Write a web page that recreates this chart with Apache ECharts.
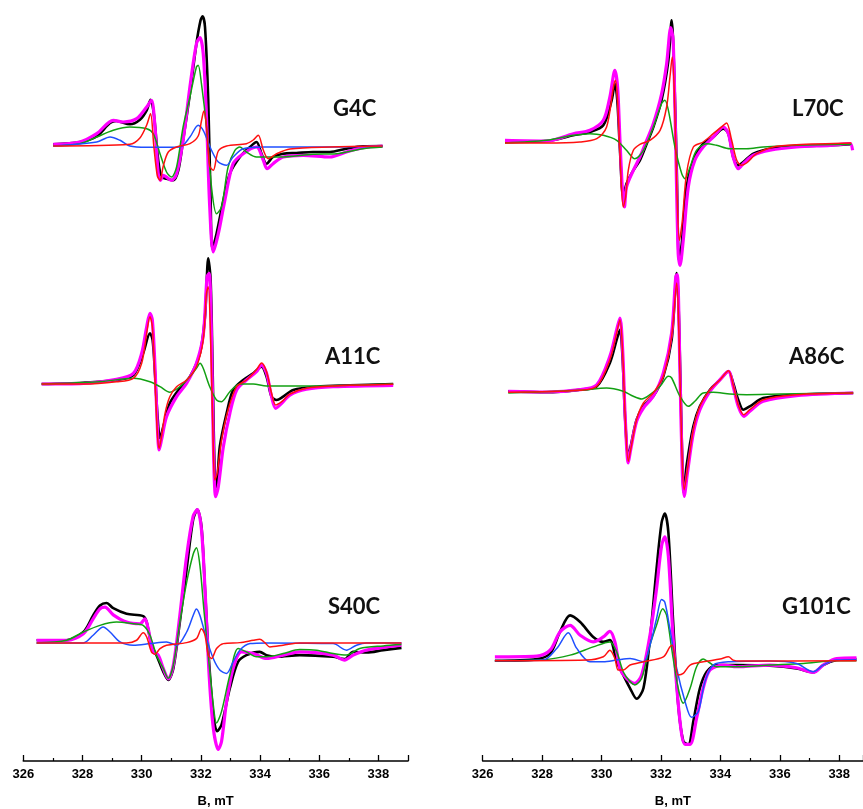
<!DOCTYPE html>
<html>
<head>
<meta charset="utf-8">
<script src="https://cdn.jsdelivr.net/npm/echarts@6/dist/echarts.min.js"></script>
<style>
  html, body { margin: 0; padding: 0; background: #fff; }
  #main { width: 863px; height: 809px; }
</style>
</head>
<body>
<div id="main"></div>
<script>
// EPR spectra, x = B (mT), y = intensity (a.u., baseline 0)

// ---- G4C ----
const g4cBlack = [[327.01,1.7],[327.91,4],[328.48,9.7],[328.93,23],[329.15,25],[329.60,21.7],[329.94,26.3],[330.17,35.7],[330.30,46.3],[330.41,32.3],[330.56,-14.3],[330.67,-31],[330.84,-32.7],[331.07,-34.3],[331.24,-24.3],[331.40,5.7],[331.63,52.3],[331.85,102.3],[331.99,125.7],[332.06,129.7],[332.14,119],[332.25,45.7],[332.33,-54.3],[332.39,-102.7],[332.53,-87.7],[332.76,-54.3],[332.98,-27.7],[333.32,-11],[333.66,-1],[333.88,4],[334.05,-7.7],[334.22,-17.7],[334.44,-11],[334.78,-7.7],[335.23,-7],[335.79,-6],[336.36,-6],[336.92,-2.7],[337.48,-0.3],[338.14,0]];
const g4cMagenta = [[327.01,1.7],[327.91,4],[328.48,12.3],[329.04,25.7],[329.38,24],[329.83,27.3],[330.17,39],[330.33,45.7],[330.45,19],[330.56,-27.7],[330.64,-34.3],[330.73,-29.3],[331.01,-34.3],[331.18,-27.7],[331.40,5.7],[331.63,59],[331.85,102.3],[331.97,108.3],[332.08,92.3],[332.19,29],[332.30,-61],[332.42,-106],[332.59,-87.7],[332.81,-54.3],[333.09,-17.7],[333.43,-7.7],[333.88,-1],[334.11,-14.3],[334.24,-22.7],[334.44,-17.7],[334.78,-11],[335.46,-9.3],[336.36,-11],[336.92,-6],[337.48,-1.7],[338.14,0]];
const g4cRed = [[327.01,0],[329.60,1.7],[329.94,8],[330.17,21],[330.30,32.3],[330.41,0],[330.53,-30],[330.62,-34.3],[330.73,-20],[330.90,-6],[331.18,-1],[331.63,2.3],[331.91,10],[332.02,25],[332.10,35],[332.19,20],[332.30,-20],[332.42,-24.3],[332.59,-5],[332.87,0],[333.54,2.3],[333.77,6],[333.94,10.7],[334.11,-4],[334.28,-12.7],[334.56,-7.7],[335.01,-3],[336.36,-1],[338.14,0]];
const g4cGreen = [[327.01,0],[327.91,2.3],[328.48,9],[329.04,15.7],[329.60,19],[330.17,17.3],[330.39,12.3],[330.62,-7.7],[330.84,-26],[331.01,-31],[331.18,-21],[331.40,19],[331.63,49],[331.85,79],[331.91,80.7],[332.02,62.3],[332.19,19],[332.36,-41],[332.53,-67.7],[332.70,-61],[332.92,-21],[333.15,-4.3],[333.32,-1],[333.54,-6],[333.88,-11],[334.67,-11],[335.79,-8.3],[336.58,-7.7],[337.48,-2.7],[338.14,-1]];
const g4cBlue = [[327.01,0],[328.48,4],[328.93,9],[329.27,5.7],[329.60,0],[330.17,-1.3],[331.29,-1],[331.63,9],[331.91,20.7],[332.08,15.7],[332.36,-4.3],[332.59,-16],[332.87,-19.3],[333.09,-11],[333.43,-2.7],[334.11,-1],[336.36,-1],[338.14,0]];

// ---- A11C ----
const a11cBlack = [[326.62,0],[328.03,1.3],[329.15,4],[329.72,9],[330.05,30.7],[330.28,50.7],[330.37,44],[330.45,10.7],[330.53,-29.3],[330.62,-54.3],[330.73,-42.7],[330.95,-19.3],[331.29,-4.3],[331.63,7.3],[331.97,30.7],[332.14,67.3],[332.25,125.7],[332.33,104.3],[332.40,10.7],[332.47,-89.3],[332.53,-102.7],[332.64,-62.7],[332.87,-29.3],[333.09,-6],[333.43,4],[333.77,10.7],[334.05,17.3],[334.22,7.3],[334.39,-12.7],[334.56,-16],[334.78,-12.7],[335.12,-6],[335.91,-2.7],[337.03,-1.3],[338.50,0]];
const a11cMagenta = [[326.62,0],[328.03,0.7],[329.15,4.7],[329.72,10.7],[330.00,30.7],[330.17,57.3],[330.28,70.7],[330.36,64],[330.45,17.3],[330.53,-42.7],[330.59,-66],[330.67,-56],[330.84,-32.7],[331.18,-12.7],[331.52,0.7],[331.85,20.7],[332.08,48.7],[332.21,107.3],[332.28,110.7],[332.35,60.7],[332.42,-56],[332.50,-112.7],[332.59,-102.7],[332.76,-62.7],[332.98,-29.3],[333.21,-6],[333.54,4],[333.88,12.3],[334.05,19],[334.22,10.7],[334.39,-12.7],[334.53,-24.3],[334.73,-19.3],[335.01,-11],[335.57,-5.3],[336.47,-2.7],[338.50,-1.3]];
const a11cRed = [[326.62,0],[328.03,0],[329.15,2.3],[329.72,5.7],[330.00,20.7],[330.17,50.7],[330.28,67.3],[330.36,57.3],[330.45,4],[330.53,-49.3],[330.59,-64.3],[330.67,-52.7],[330.79,-29.3],[330.95,-12.7],[331.18,-2.7],[331.52,4],[331.85,17.3],[332.08,44],[332.19,90.7],[332.25,97.3],[332.33,44],[332.42,-62.7],[332.47,-96],[332.55,-89.3],[332.70,-56],[332.92,-26],[333.21,-2.7],[333.54,4],[333.88,14.3],[334.05,21],[334.22,12.3],[334.39,-9.3],[334.53,-21],[334.73,-17.7],[335.01,-10],[335.57,-4.3],[336.47,-2],[338.50,-0.3]];
const a11cGreen = [[326.62,0],[328.59,2.3],[329.72,5.7],[330.28,2.3],[330.62,-2.7],[330.95,-8.3],[331.29,-2.7],[331.63,7.3],[331.85,15.7],[331.97,20.7],[332.08,15.7],[332.30,-2.7],[332.53,-16],[332.70,-17.7],[332.98,-7.7],[333.32,0],[333.77,0],[334.22,-2],[335.34,-2],[336.47,-1.7],[338.50,0]];

// ---- S40C ----
const s40cBlack = [[326.45,2.7],[327.46,2.7],[328.03,11],[328.36,27.7],[328.59,37.7],[328.81,40.3],[329.04,35],[329.49,29.3],[330.05,27],[330.17,21],[330.33,-2.3],[330.50,-12.3],[330.73,-29],[330.90,-37.3],[331.07,-25.7],[331.29,21],[331.52,74.3],[331.74,124.3],[331.88,134.3],[332.02,117.7],[332.14,54.3],[332.25,-5.7],[332.42,-72.3],[332.55,-89],[332.70,-82.3],[332.98,-45.7],[333.26,-19],[333.54,-12.3],[333.99,-9],[334.22,-12.3],[334.56,-14],[335.34,-12.3],[336.47,-14],[336.86,-16.3],[337.15,-9],[337.60,-9.7],[338.16,-7.3],[338.78,-5]];
const s40cMagenta = [[326.45,2.7],[327.46,2.7],[328.03,9.3],[328.36,24.3],[328.59,34.3],[328.76,36],[329.04,28.3],[329.49,21],[329.94,19.3],[330.11,24.3],[330.22,14.3],[330.39,-9],[330.56,-12.3],[330.73,-25.7],[330.90,-36.3],[331.07,-22.3],[331.29,27.7],[331.52,87.7],[331.74,127.7],[331.88,134.3],[332.02,114.3],[332.14,54.3],[332.28,-32.3],[332.42,-85.7],[332.59,-107.3],[332.70,-99],[332.87,-59],[333.09,-25.7],[333.37,-9],[333.77,-10.7],[334.22,-15.7],[334.78,-12.3],[335.34,-9],[336.47,-12.3],[336.86,-17.3],[337.15,-12.3],[337.60,-7.3],[338.78,-2.3]];
const s40cRed = [[326.45,0],[329.49,0],[329.83,2.7],[330.05,10.3],[330.17,6],[330.33,-9],[330.45,-11.3],[330.62,-5.7],[330.84,-2.3],[331.52,0.3],[331.85,4.3],[332.02,14.3],[332.14,7.7],[332.25,-12.3],[332.36,-15.7],[332.53,-5.7],[332.76,-0.7],[333.32,0.3],[333.77,2.7],[333.99,3.7],[334.16,0.3],[334.33,-4],[334.78,-2.3],[335.34,0],[338.78,0]];
const s40cGreen = [[326.45,0],[327.46,2.7],[328.03,11],[328.59,17.7],[329.15,21],[329.72,19.3],[330.05,17.7],[330.28,7.7],[330.50,-12.3],[330.73,-25.7],[330.90,-35.7],[331.07,-22.3],[331.29,21],[331.52,61],[331.74,89.3],[331.85,96],[331.97,77.7],[332.10,34.3],[332.25,-12.3],[332.42,-62.3],[332.53,-80.7],[332.70,-69],[332.98,-32.3],[333.26,-5.7],[333.54,-9],[333.88,-14],[334.22,-14],[334.78,-10.7],[335.34,-6.7],[335.91,-7.3],[336.47,-10.7],[336.92,-12.3],[337.37,-5.7],[338.16,-3],[338.78,-1.7]];
const s40cBlue = [[326.45,0],[328.03,0],[328.36,7.7],[328.70,16],[328.93,11],[329.27,1],[329.72,-2.3],[330.28,-0.7],[330.84,1],[331.18,-2.3],[331.52,11],[331.74,27.7],[331.85,34.3],[331.97,27.7],[332.19,4.3],[332.42,-15.7],[332.64,-27.3],[332.87,-30.7],[333.09,-19],[333.32,-7.3],[333.66,-0.7],[334.22,0],[336.47,-0.7],[336.92,-7.3],[337.26,-2.3],[337.60,0],[338.78,0]];

// ---- L70C ----
const l70cBlack = [[326.75,1],[328.15,2],[329.05,7.7],[329.61,11],[330.06,17.7],[330.34,42.7],[330.45,59.3],[330.53,42.7],[330.62,-7.3],[330.73,-54],[330.84,-40.7],[331.07,-27.3],[331.29,-17.3],[331.52,-0.7],[331.74,15.7],[332.02,42.7],[332.25,82.7],[332.36,122.7],[332.44,76],[332.53,-24],[332.61,-117.3],[332.70,-100.7],[332.86,-44],[333.09,-17.3],[333.42,-0.7],[333.76,6],[334.10,14.3],[334.27,9.3],[334.43,-14],[334.60,-22.3],[334.77,-19],[335.11,-10.7],[335.67,-5.7],[336.56,-3.3],[337.69,-2.3],[338.41,-1.3]];
const l70cMagenta = [[326.75,2.7],[328.15,2],[329.05,9.3],[329.61,12.7],[330.06,22.7],[330.28,46],[330.45,72.7],[330.54,56],[330.62,2.7],[330.71,-50.7],[330.77,-64],[330.84,-44],[331.07,-27.3],[331.29,-14],[331.52,2.7],[331.74,19],[332.02,49],[332.19,79],[332.33,115.3],[332.41,102.7],[332.50,-7.3],[332.58,-110.7],[332.64,-122.3],[332.75,-97.3],[332.92,-44],[333.14,-17.3],[333.42,-4],[333.76,6],[334.10,16],[334.27,9.3],[334.43,-14],[334.60,-25.7],[334.77,-20.7],[335.11,-12.3],[335.67,-7.3],[336.56,-4],[337.69,-2.3],[338.36,-0.7],[338.45,-7.3]];
const l70cRed = [[326.75,0],[328.15,0],[329.27,1],[329.84,4.3],[330.17,16],[330.40,56],[330.47,62.7],[330.54,42.7],[330.62,-10.7],[330.73,-64],[330.81,-54],[330.90,-27.3],[331.07,-7.3],[331.29,-1.3],[331.63,2.7],[331.97,12.7],[332.19,36],[332.30,65.3],[332.38,86],[332.45,49.3],[332.53,-40.7],[332.62,-97.3],[332.72,-77.3],[332.86,-30.7],[333.09,-4],[333.42,1],[333.76,9.3],[334.10,17.7],[334.21,20],[334.38,2.7],[334.55,-17.3],[334.71,-22.3],[334.88,-20],[335.22,-10.7],[335.78,-4],[336.56,-1.7],[338.41,0]];
const l70cGreen = [[326.75,0],[328.15,2.7],[329.05,7.7],[329.61,9.3],[330.06,7.7],[330.51,2.7],[330.84,-7.3],[331.12,-15.7],[331.41,-7.3],[331.74,16],[332.02,39.3],[332.13,42.7],[332.25,32.7],[332.47,-4],[332.70,-30.7],[332.81,-35.7],[332.98,-24],[333.20,-7.3],[333.54,-0.7],[333.87,-2.3],[334.32,-5.7],[334.88,-5.7],[335.44,-4],[336.56,-2.3],[338.41,-1.3]];

// ---- A86C ----
const a86cBlack = [[326.86,1.7],[328.15,0.7],[329.27,3.3],[329.84,6.7],[330.28,30],[330.51,53.3],[330.62,63.3],[330.71,33.3],[330.79,-23.3],[330.90,-63.3],[330.98,-53.3],[331.18,-26.7],[331.41,-13.3],[331.74,-3.3],[332.08,16.7],[332.36,53.3],[332.53,120],[332.61,70],[332.70,-46.7],[332.77,-100],[332.86,-73.3],[333.09,-33.3],[333.31,-13.3],[333.65,3.3],[333.99,13.3],[334.27,21.7],[334.43,10],[334.60,-6.7],[334.77,-16.7],[334.99,-13.3],[335.44,-5],[336.56,-1.7],[338.47,0]];
const a86cMagenta = [[326.86,1.7],[328.15,1],[329.27,3.3],[329.84,8.3],[330.28,36.7],[330.51,63.3],[330.62,75],[330.71,43.3],[330.80,-26.7],[330.90,-70],[330.98,-56.7],[331.18,-28.3],[331.41,-15],[331.74,-3.3],[332.08,20],[332.36,60],[332.50,116.7],[332.55,118.3],[332.64,20],[332.72,-80],[332.78,-103.3],[332.89,-80],[333.09,-40],[333.31,-16.7],[333.65,1.7],[333.99,13.3],[334.27,21.7],[334.43,6.7],[334.60,-13.3],[334.79,-23.3],[334.99,-18.3],[335.44,-8.3],[336.56,-2.7],[338.47,0]];
const a86cRed = [[326.86,0.7],[329.27,2.7],[329.84,6.7],[330.28,33.3],[330.51,60],[330.62,73.3],[330.71,40],[330.80,-26.7],[330.90,-68.3],[330.98,-56.7],[331.18,-26.7],[331.41,-10],[331.74,0],[332.08,16.7],[332.36,56.7],[332.53,110],[332.61,53.3],[332.70,-53.3],[332.78,-96.7],[332.89,-76.7],[333.09,-36.7],[333.31,-13.3],[333.65,3.3],[333.99,13.3],[334.27,22.3],[334.43,8.3],[334.60,-11.7],[334.79,-21.7],[334.99,-16.7],[335.44,-6.7],[336.56,-1.7],[338.47,0]];
const a86cGreen = [[326.86,0],[329.27,2.7],[330.17,5],[330.73,1.7],[331.07,-3.3],[331.35,-6],[331.63,-1.7],[331.97,6.7],[332.25,16.7],[332.36,15],[332.64,-3.3],[332.92,-13.3],[333.14,-8.3],[333.42,0],[333.76,0.7],[334.32,-1],[334.88,-1.7],[336.00,-1],[338.47,0]];

// ---- G101C ----
const g101cBlack = [[326.41,0],[327.82,1.7],[328.27,7.3],[328.60,29],[328.94,45.7],[329.28,39],[329.72,24],[330.06,19],[330.28,21],[330.51,-1],[330.73,-14.3],[330.96,-27.7],[331.18,-38.3],[331.41,-27.7],[331.63,22.3],[331.85,92.3],[332.02,139],[332.13,148.3],[332.25,129],[332.41,39],[332.58,-44.3],[332.75,-81],[332.92,-84.3],[333.09,-61],[333.31,-27.7],[333.54,-11],[333.87,-4.3],[334.55,-4.3],[335.67,-5],[336.56,-7.7],[337.13,-11.7],[337.46,-4.3],[337.91,0.7],[338.58,1.7]];
const g101cMagenta = [[326.41,4],[327.82,4.7],[328.27,10.7],[328.60,29],[328.94,35.7],[329.28,25.7],[329.72,19],[330.06,24],[330.28,29.7],[330.45,19],[330.62,-7.7],[330.84,-17.7],[331.12,-22.7],[331.35,-14.3],[331.63,25.7],[331.85,72.3],[332.02,115.7],[332.13,125],[332.25,105],[332.41,22.3],[332.64,-61],[332.81,-84.3],[332.98,-84.3],[333.20,-57.7],[333.42,-27.7],[333.65,-9.3],[334.10,-4.3],[334.55,-6],[335.67,-4.3],[336.56,-7],[337.13,-11.7],[337.46,-4.3],[337.91,2.3],[338.58,3]];
const g101cRed = [[326.41,0],[329.50,0.7],[330.06,4],[330.28,10.7],[330.45,2.3],[330.56,-9.3],[330.73,-9.3],[330.96,-4.3],[331.41,-1],[332.08,4],[332.30,14],[332.38,15.7],[332.47,2.3],[332.58,-14.3],[332.75,-12.7],[332.98,-4.3],[333.42,-1],[333.99,1.7],[334.27,4],[334.43,0.7],[334.66,-0.3],[338.58,0]];
const g101cGreen = [[326.41,0],[328.04,1],[328.94,5.7],[329.72,14],[330.28,19],[330.51,9],[330.73,-11],[330.96,-21],[331.12,-24.3],[331.35,-17.7],[331.63,15.7],[331.85,35.7],[332.06,52.3],[332.19,45.7],[332.36,12.3],[332.58,-27.7],[332.75,-42.7],[332.98,-27.7],[333.20,-6],[333.42,1.7],[333.59,-1],[333.87,-6],[334.55,-6],[335.67,-4.3],[336.79,-2.7],[337.91,0],[338.58,0]];
const g101cBlue = [[326.41,0],[328.04,0.7],[328.49,12.3],[328.88,28.3],[329.16,12.7],[329.61,-1],[330.06,-1],[330.51,0.7],[330.96,2.3],[331.41,-1],[331.63,15.7],[331.85,42.3],[332.02,61.7],[332.13,59],[332.30,32.3],[332.53,-7.7],[332.81,-41],[333.03,-57],[333.26,-51],[333.48,-21],[333.76,-4.3],[334.32,-1],[335.67,-0.3],[336.56,-2.7],[337.13,-11],[337.46,-4.3],[337.91,0.7],[338.58,0.7]];

const xTicksMin = 326;
const xTickStep = 2;

// drawing order: black under magenta, components on top
const panels = [
  { name: 'G4C',   curves: { black: g4cBlack, magenta: g4cMagenta, green: g4cGreen, blue: g4cBlue, red: g4cRed } },
  { name: 'A11C',  curves: { black: a11cBlack, magenta: a11cMagenta, green: a11cGreen, red: a11cRed } },
  { name: 'S40C',  curves: { black: s40cBlack, magenta: s40cMagenta, green: s40cGreen, blue: s40cBlue, red: s40cRed } },
  { name: 'L70C',  curves: { black: l70cBlack, magenta: l70cMagenta, green: l70cGreen, red: l70cRed } },
  { name: 'A86C',  curves: { black: a86cBlack, magenta: a86cMagenta, green: a86cGreen, red: a86cRed } },
  { name: 'G101C', curves: { black: g101cBlack, magenta: g101cMagenta, green: g101cGreen, blue: g101cBlue, red: g101cRed } }
];

// layout of each panel (pixels) and its intensity window
const layout = [
  { left: 23.3,  width: 384.7, top: 0,   height: 270, yMin: -124, yMax: 146, xMax: 339,   lx: 333, ly: 110, axis: false },
  { left: 23.3,  width: 384.7, top: 254, height: 256, yMin: -126, yMax: 130, xMax: 339,   lx: 325, ly: 358, axis: false },
  { left: 23.3,  width: 384.7, top: 504, height: 259, yMin: -119, yMax: 140, xMax: 339,   lx: 328, ly: 608, axis: true },
  { left: 482.7, width: 380.3, top: 0,   height: 270, yMin: -127, yMax: 143, xMax: 338.8, lx: 792, ly: 110, axis: false },
  { left: 482.7, width: 380.3, top: 263, height: 250, yMin: -120, yMax: 130, xMax: 338.8, lx: 789, ly: 358, axis: false },
  { left: 482.7, width: 380.3, top: 502, height: 261, yMin: -101, yMax: 160, xMax: 338.8, lx: 782, ly: 608, axis: true }
];

const styles = {
  magenta: { color: '#ff00ff', width: 3.2 },
  black:   { color: '#000000', width: 2.6 },
  green:   { color: '#12a012', width: 1.5 },
  blue:    { color: '#1f4fff', width: 1.5 },
  red:     { color: '#ff1010', width: 1.5 }
};

const axisFont = 'Liberation Sans, Arial, sans-serif';
const grid = [], xAxis = [], yAxis = [], series = [], graphic = [];

panels.forEach((p, i) => {
  const L = layout[i];
  grid.push({ left: L.left, top: L.top, width: L.width, height: L.height });
  xAxis.push({
    type: 'value', gridIndex: i, min: xTicksMin, max: L.xMax, interval: xTickStep,
    show: L.axis,
    axisLine: { onZero: false, lineStyle: { color: '#000', width: 1.6 } },
    axisTick: { inside: true, length: 6, lineStyle: { color: '#000', width: 1.3 } },
    minorTick: { show: true, splitNumber: 2, length: 3, lineStyle: { color: '#000', width: 1.2 } },
    splitLine: { show: false },
    axisLabel: {
      margin: 7, color: '#000', fontSize: 13, fontWeight: 'bold',
      fontFamily: axisFont, showMaxLabel: false
    },
    name: 'B, mT', nameLocation: 'middle', nameGap: 34,
    nameTextStyle: { color: '#000', fontSize: 13, fontWeight: 'bold', fontFamily: axisFont }
  });
  yAxis.push({ type: 'value', gridIndex: i, min: L.yMin, max: L.yMax, show: false, splitLine: { show: false } });

  Object.keys(p.curves).forEach(k => {
    series.push({
      type: 'line', xAxisIndex: i, yAxisIndex: i,
      data: p.curves[k], smooth: 0.3, symbol: 'none', clip: false,
      lineStyle: { color: styles[k].color, width: styles[k].width },
      silent: true, animation: false
    });
  });

  graphic.push({
    type: 'text', left: L.lx, top: L.ly - 12,
    style: { text: p.name, fill: '#111', font: 'bold 22px Lato, "Open Sans", sans-serif' }
  });
});

const chart = echarts.init(document.getElementById('main'), null, { renderer: 'canvas' });
chart.setOption({
  backgroundColor: '#fff',
  animation: false,
  grid, xAxis, yAxis, series, graphic
});
</script>
</body>
</html>
